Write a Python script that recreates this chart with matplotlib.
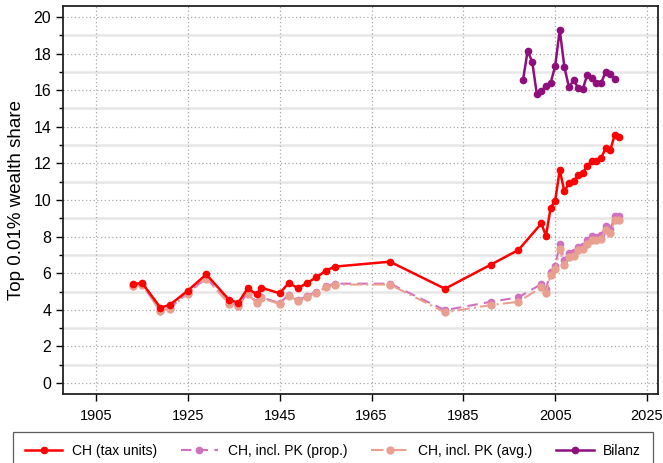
import matplotlib
matplotlib.use("Agg")
import matplotlib.pyplot as plt
from matplotlib.ticker import MultipleLocator

plt.rcParams['font.family'] = ['Liberation Sans', 'DejaVu Sans']

# ---- data ----
years_ch = [1913, 1915, 1919, 1921, 1925, 1929, 1934, 1936, 1938, 1940, 1941,
            1945, 1947, 1949, 1951, 1953, 1955, 1957, 1969, 1981, 1991, 1997,
            2002, 2003, 2004, 2005, 2006, 2007, 2008, 2009, 2010, 2011, 2012,
            2013, 2014, 2015, 2016, 2017, 2018, 2019]
ch_tax = [5.39, 5.48, 4.12, 4.26, 5.05, 5.94, 4.54, 4.39, 5.17, 4.85, 5.21,
          4.90, 5.48, 5.17, 5.48, 5.77, 6.14, 6.36, 6.63, 5.15, 6.47, 7.27,
          8.72, 8.03, 9.56, 9.96, 11.64, 10.47, 10.91, 11.02, 11.35, 11.46, 11.88,
          12.11, 12.11, 12.28, 12.84, 12.73, 13.57, 13.46]
ch_pk_prop = [5.32, 5.42, 3.95, 4.10, 4.92, 5.75, 4.37, 4.23, 4.92, 4.42, 4.68,
              4.37, 4.83, 4.52, 4.77, 4.98, 5.28, 5.43, 5.43, 3.98, 4.44, 4.68,
              5.41, 5.12, 6.08, 6.39, 7.58, 6.72, 7.09, 7.14, 7.45, 7.49, 7.81,
              8.03, 7.99, 8.07, 8.58, 8.40, 9.13, 9.13]
ch_pk_avg = [5.28, 5.38, 3.92, 4.07, 4.88, 5.70, 4.33, 4.19, 4.87, 4.37, 4.63,
             4.32, 4.78, 4.47, 4.72, 4.93, 5.22, 5.38, 5.38, 3.86, 4.26, 4.44,
             5.23, 4.93, 5.90, 6.21, 7.31, 6.45, 6.87, 6.94, 7.25, 7.30, 7.62,
             7.83, 7.80, 7.88, 8.38, 8.20, 8.90, 8.90]
years_bilanz = list(range(1998, 2019))
bilanz = [16.56, 18.14, 17.56, 15.79, 15.94, 16.25, 16.38, 17.32, 19.29, 17.28,
          16.16, 16.54, 16.14, 16.05, 16.85, 16.68, 16.38, 16.38, 17.01, 16.89, 16.61]

labels = ["CH (tax units)", "CH, incl. PK (prop.)", "CH, incl. PK (avg.)", "Bilanz"]
xticks = [1905, 1925, 1945, 1965, 1985, 2005, 2025]

c_red = "#FF0000"
c_prop = "#D070BE"
c_avg = "#E9A090"
c_bil = "#8E0F7C"

fig = plt.figure(figsize=(6.63, 4.63), dpi=100)
ax = fig.add_axes([63/663, 1-394/463, (658-63)/663, (394-6)/463])

ax.set_xlim(1897.8, 2027.4)
ax.set_ylim(-0.6, 20.6)

# grid
for y in range(0, 21, 2):
    ax.axhline(y, color="#a8a8a8", lw=0.9, ls=(0, (1, 2)), zorder=0)
for y in range(1, 21, 2):
    ax.axhline(y, color="#e6e6e6", lw=1.8, ls="-", zorder=0)
for x in xticks:
    ax.axvline(x, color="#a8a8a8", lw=0.9, ls=(0, (1, 2)), zorder=0)

l2, = ax.plot(years_ch, ch_pk_prop, color=c_prop, lw=1.5, ls=(0, (5, 3)),
              marker="o", ms=4.5, mfc=c_prop, mec=c_prop, zorder=2, label=labels[1])
l3, = ax.plot(years_ch, ch_pk_avg, color=c_avg, lw=1.5, ls=(0, (6, 2, 1, 2)),
              marker="o", ms=5, mfc=c_avg, mec=c_avg, zorder=3, label=labels[2])
l1, = ax.plot(years_ch, ch_tax, color=c_red, lw=1.8, marker="o", ms=4.5,
              zorder=4, label=labels[0])
l4, = ax.plot(years_bilanz, bilanz, color=c_bil, lw=1.8, marker="o", ms=4.5,
              zorder=4, label=labels[3])

ax.set_xticks(xticks)
ax.set_yticks(range(0, 21, 2))
ax.yaxis.set_minor_locator(MultipleLocator(1))
ax.tick_params(axis="both", which="major", direction="out", length=5, width=1,
               labelsize=11.5, color="black")
ax.tick_params(axis="x", labelsize=10.5, pad=6)
ax.tick_params(axis="y", which="minor", direction="out", length=3, width=1)
for s in ax.spines.values():
    s.set_linewidth(1.3)
    s.set_color("#222222")

ax.set_ylabel("Top 0.01% wealth share", fontsize=13.5, labelpad=6)

leg = fig.legend(handles=[l1, l2, l3, l4], labels=labels, loc="upper center",
                 bbox_to_anchor=(333/663, 1-432/463),
                 ncol=4, fontsize=10, frameon=True, fancybox=False,
                 edgecolor="#333333", handlelength=2.7, borderaxespad=0,
                 borderpad=0.85, columnspacing=1.7, handletextpad=0.7)
leg.get_frame().set_linewidth(0.9)

fig.savefig("out.png", dpi=100)
